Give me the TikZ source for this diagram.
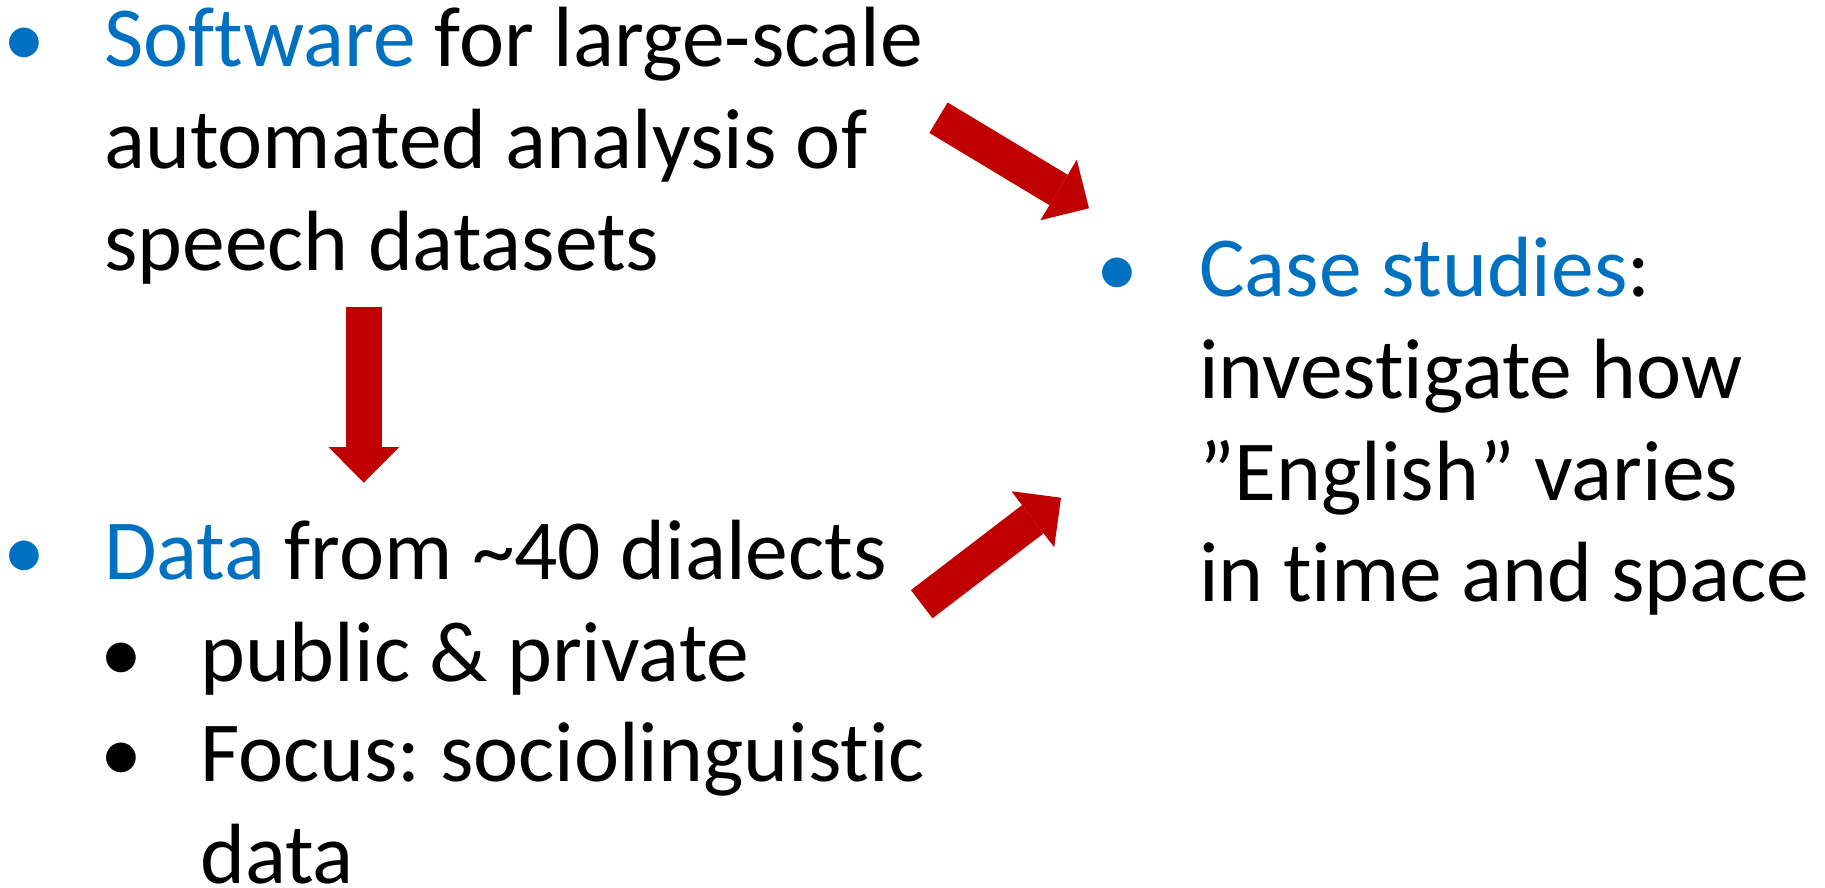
\documentclass[tikz,border=0pt]{standalone}
\usepackage{fontspec}
\setmainfont[Ligatures={NoCommon}]{Carlito}
\usetikzlibrary{arrows.meta}
\definecolor{accent}{HTML}{0070C0}
\definecolor{arrowred}{HTML}{C00000}
\frenchspacing
\tikzset{
  line/.style={anchor=base west, inner sep=0pt, font=\fontsize{85.5}{102}\selectfont},
  dot/.style={anchor=base, inner sep=0pt, font=\fontsize{84}{102}\selectfont},
  blockarrow/.style={draw=arrowred, line width=35.5pt,
    -{Triangle[length=35.5pt, width=70.5pt, line width=0pt, fill=arrowred]}},
}
\begin{document}
\begin{tikzpicture}[x=1pt, y=-1pt]
  \useasboundingbox (0,0) rectangle (1825,887);

  % Software block
  \node[dot, text=accent] (b1) at (24,66.7) {•};
  \node[line] (sw1) at (104,66.7) {\textcolor{accent}{Software} for large-scale};
  \node[line] (sw2) at (104,168.4) {automated analysis of};
  \node[line] (sw3) at (104,270.1) {speech datasets};

  % Data block
  \node[dot, text=accent] (b2) at (24,579) {•};
  \node[line] (dt1) at (104,579) {\textcolor{accent}{Data} from \textasciitilde 40 dialects};
  \node[dot] (b3) at (121,681) {•};
  \node[line] (dt2) at (200,681) {public \& private};
  \node[dot] (b4) at (121,781.7) {•};
  \node[line] (dt3) at (200,781.7) {Focus: sociolinguistic};
  \node[line] (dt4) at (200,883.4) {data};

  % Case studies block
  \node[dot, text=accent] (b5) at (1117,296.7) {•};
  \node[line] (cs1) at (1199,296.7) {\textcolor{accent}{Case studies}:};
  \node[line] (cs2) at (1199,398.4) {investigate how};
  \node[line] (cs3) at (1199,500.1) {”English” varies};
  \node[line] (cs4) at (1199,601.8) {in time and space};

  % arrow end points
  \coordinate (a1s) at (938.5,117.7);
  \coordinate (a1e) at (1089,208.3);
  \coordinate (a2s) at (363.8,306.7);
  \coordinate (a2e) at (363.8,482.7);
  \coordinate (a3s) at (921.7,604.2);
  \coordinate (a3e) at (1061,497.7);

  \draw[blockarrow] (a1s) -- (a1e);
  \draw[blockarrow] (a2s) -- (a2e);
  \draw[blockarrow] (a3s) -- (a3e);
\end{tikzpicture}
\end{document}
